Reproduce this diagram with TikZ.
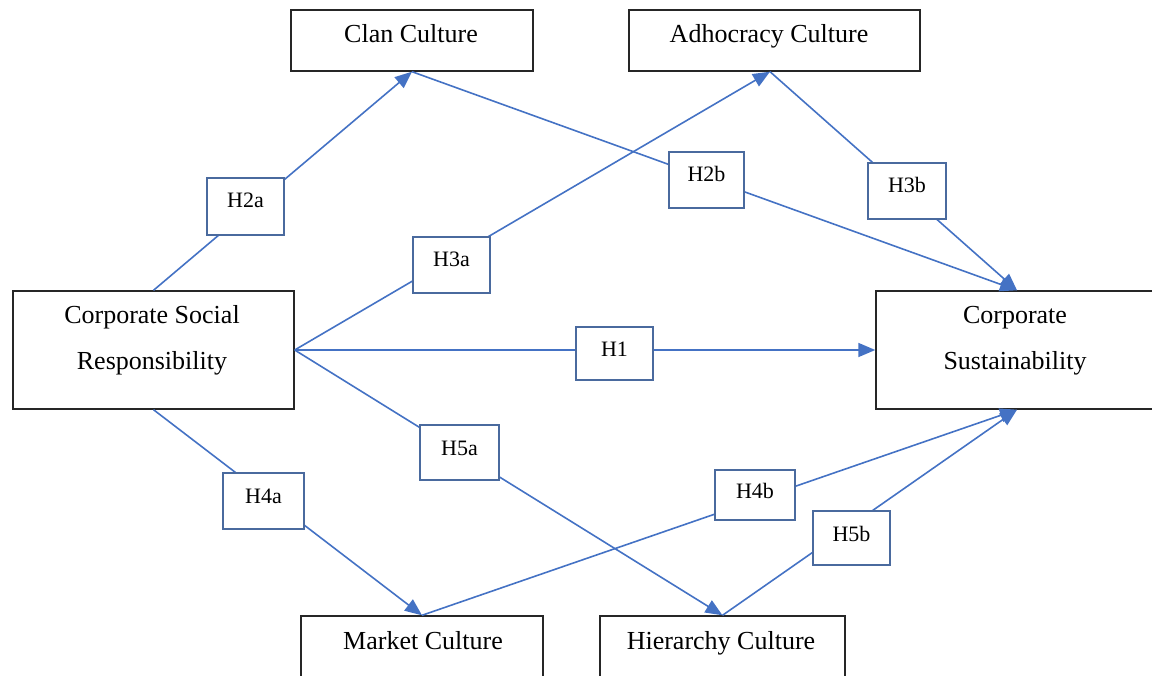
\documentclass[tikz,border=0pt]{standalone}
\usepackage{fontspec}
\setmainfont{Liberation Serif}
\usetikzlibrary{arrows.meta}
\definecolor{lineblue}{HTML}{4472C4}
\definecolor{hboxblue}{HTML}{4A6A9E}
\begin{document}
\begin{tikzpicture}[x=1pt,y=-1pt,
  mainbox/.style={draw=black!85, line width=1.4pt, inner sep=0pt},
  maintext/.style={font=\fontsize{26}{30}\selectfont, anchor=base, inner sep=0pt},
  hbox/.style={draw=hboxblue, line width=1.3pt, fill=white, inner sep=0pt, text height=30pt, font=\fontsize{22}{26}\selectfont},
  link/.style={draw=lineblue, line width=1.6pt},
  arr/.style={link, -{Triangle[length=17pt,width=14pt]}}]
\useasboundingbox (0,0) rectangle (1152,676);
% main boxes
\node[mainbox, minimum width=242pt, minimum height=61pt] (clan) at (412,40.5) {};
\node[mainbox, minimum width=291pt, minimum height=61pt] (adh) at (774.5,40.5) {};
\node[mainbox, minimum width=281pt, minimum height=118pt] (csr) at (153.5,350) {};
\node[mainbox, minimum width=282pt, minimum height=118pt] (cs) at (1017,350) {};
\node[mainbox, minimum width=242pt, minimum height=88pt] (market) at (422,660) {};
\node[mainbox, minimum width=245pt, minimum height=88pt] (hier) at (722.5,660) {};
% texts
\node[maintext] (clant) at (411,43) {Clan Culture};
\node[maintext] (adht) at (769,43) {Adhocracy Culture};
\node[maintext] (csrt1) at (152,324) {Corporate Social};
\node[maintext] (csrt2) at (152,370) {Responsibility};
\node[maintext] (cst1) at (1015,324) {Corporate};
\node[maintext] (cst2) at (1015,370) {Sustainability};
\node[maintext] (markett) at (423,649) {Market Culture};
\node[maintext] (hiert) at (721,649) {Hierarchy Culture};
% connectors
\draw[arr] (csr.north) -- (clan.south);
\draw[arr] (clan.south) -- (cs.north);
\draw[arr] (csr.east) -- (adh.south -| 770,0);
\draw[arr] (adh.south -| 770,0) -- (cs.north);
\draw[arr] (csr.east) -- (cs.west);
\draw[arr] (csr.east) -- (hier.north);
\draw[arr] (csr.south) -- (market.north);
\draw[arr] (market.north) -- (cs.south);
\draw[arr] (hier.north) -- (cs.south);
% hypothesis boxes
\node[hbox, minimum width=77pt, text depth=27pt] (h2a) at (245.5,206.5) {H2a};
\node[hbox, minimum width=75pt, text depth=26pt] (h2b) at (706.5,180) {H2b};
\node[hbox, minimum width=78pt, text depth=26pt] (h3b) at (907,191) {H3b};
\node[hbox, minimum width=77pt, text depth=26pt] (h3a) at (451.5,265) {H3a};
\node[hbox, minimum width=77pt, text height=30pt, text depth=23pt] (h1) at (614.5,353.5) {H1};
\node[hbox, minimum width=79pt, text depth=25pt] (h5a) at (459.5,452.5) {H5a};
\node[hbox, minimum width=81pt, text depth=26pt] (h4a) at (263.5,501) {H4a};
\node[hbox, minimum width=80pt, text height=28pt, text depth=22pt] (h4b) at (755,495) {H4b};
\node[hbox, minimum width=77pt, text depth=24pt] (h5b) at (851.5,538) {H5b};
\end{tikzpicture}
\end{document}
